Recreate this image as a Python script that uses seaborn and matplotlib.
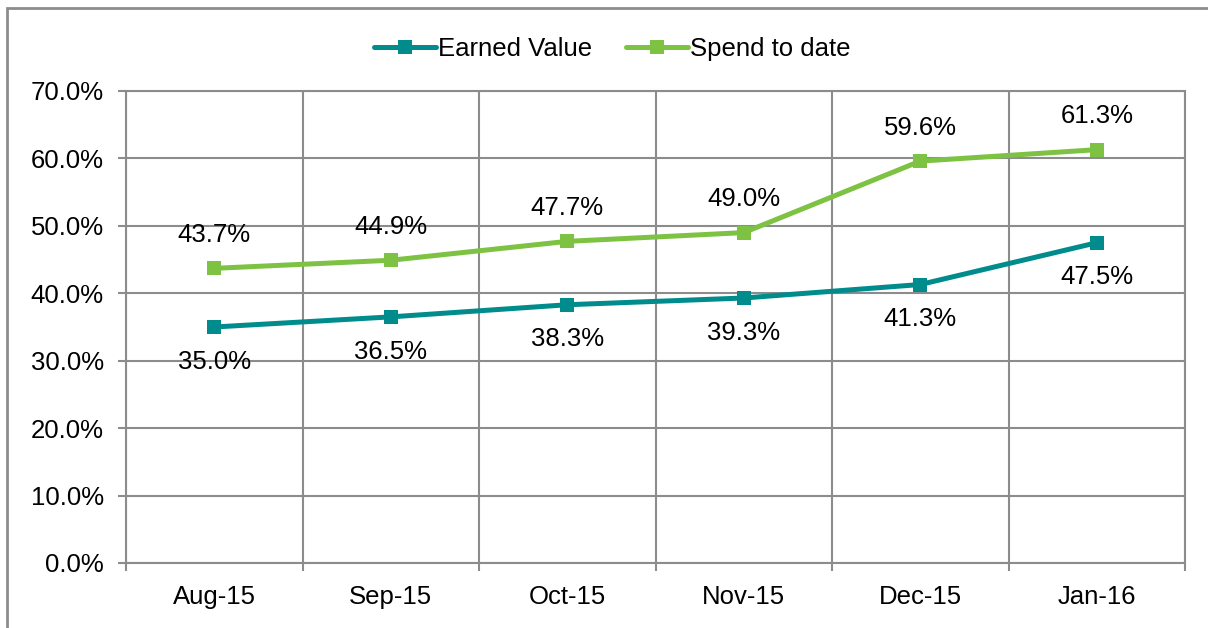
import numpy as np
import matplotlib
matplotlib.use('Agg')
import matplotlib.pyplot as plt
import seaborn as sns
import pandas as pd
from matplotlib.patches import Rectangle

months = ['Aug-15', 'Sep-15', 'Oct-15', 'Nov-15', 'Dec-15', 'Jan-16']
earned = [35.0, 36.5, 38.3, 39.3, 41.3, 47.5]
spend = [43.7, 44.9, 47.7, 49.0, 59.6, 61.3]

teal = '#008C8C'
green = '#7DC242'
grey = '#8C8C8C'

sns.set_style('white')
plt.rcParams['font.family'] = ['Liberation Sans', 'DejaVu Sans']
plt.rcParams['text.color'] = 'black'
plt.rcParams['xtick.labelcolor'] = 'black'
plt.rcParams['ytick.labelcolor'] = 'black'

df = pd.DataFrame({'month': months * 2,
                   'value': earned + spend,
                   'series': ['Earned Value'] * 6 + ['Spend to date'] * 6})

fig = plt.figure(figsize=(12.08, 6.28), dpi=100)
ax = fig.add_axes([126 / 1208, 1 - 563 / 628, (1185 - 126) / 1208, (563 - 91) / 628])

sns.lineplot(data=df, x='month', y='value', hue='series',
             palette={'Earned Value': teal, 'Spend to date': green},
             marker='s', markersize=10.5, markeredgewidth=0, linewidth=3.6,
             sort=False, ax=ax, legend=True)

# data labels
for i, v in enumerate(earned):
    ax.annotate(f'{v:.1f}%', (i, v), xytext=(0, -25), textcoords='offset points',
                ha='center', va='center', fontsize=18.5, color='black')
for i, v in enumerate(spend):
    ax.annotate(f'{v:.1f}%', (i, v), xytext=(0, 24), textcoords='offset points',
                ha='center', va='center', fontsize=18.5, color='black')

ax.set_xlim(-0.5, 5.5)
ax.set_ylim(0, 70)
ax.set_yticks(np.arange(0, 71, 10))
ax.set_yticklabels([f'{t:.1f}%' for t in np.arange(0, 71, 10)])
ax.set_xticks(range(6))
ax.set_xticklabels(months)
ax.set_xticks(np.arange(-0.5, 6, 1), minor=True)
ax.set_xlabel('')
ax.set_ylabel('')

ax.tick_params(axis='x', which='major', length=0, pad=16, labelsize=18.5, labelcolor='black')
ax.tick_params(axis='x', which='minor', length=6, width=1.5, color=grey, direction='out', bottom=True)
ax.tick_params(axis='y', length=6, width=1.5, color=grey, direction='out', left=True,
               labelsize=18.5, pad=10, labelcolor='black')

ax.grid(axis='y', color=grey, linewidth=1.5)
ax.grid(axis='x', which='minor', color=grey, linewidth=1.5)
ax.grid(axis='x', which='major', visible=False)
ax.set_axisbelow(True)
for s in ax.spines.values():
    s.set_color(grey)
    s.set_linewidth(1.5)

handles, labels = ax.get_legend_handles_labels()
ax.legend_.remove()
leg = fig.legend(handles, labels, loc='center', bbox_to_anchor=(0.507, 0.922), ncol=2,
                 frameon=False, fontsize=18.5, handlelength=2.4, handletextpad=0.1,
                 columnspacing=1.3)
for t in leg.get_texts():
    t.set_color('black')

fig.patches.append(Rectangle((7 / 1208, -0.1), 1.2, 1 - 8 / 628 + 0.1,
                             transform=fig.transFigure, fill=False,
                             edgecolor=grey, linewidth=2))

fig.savefig('out.png', dpi=100)
